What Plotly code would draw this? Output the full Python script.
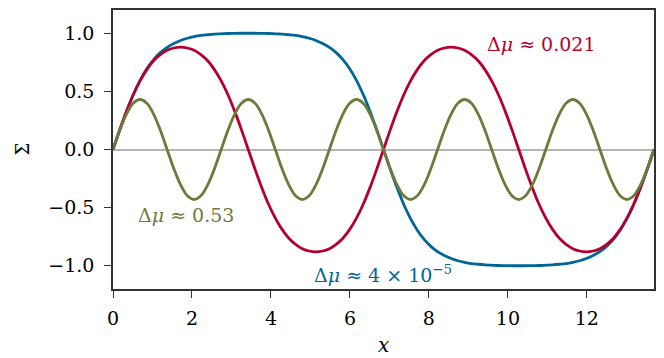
import plotly.graph_objects as go

# sample positions along x
x = [0.000, 0.171, 0.343, 0.514, 0.685, 0.856, 1.028, 1.199, 1.370, 1.541,
     1.713, 1.884, 2.055, 2.226, 2.398, 2.569, 2.740, 2.911, 3.083, 3.254,
     3.425, 3.596, 3.768, 3.939, 4.110, 4.281, 4.453, 4.624, 4.795, 4.966,
     5.138, 5.309, 5.480, 5.651, 5.823, 5.994, 6.165, 6.336, 6.508, 6.679,
     6.850, 7.021, 7.193, 7.364, 7.535, 7.706, 7.878, 8.049, 8.220, 8.391,
     8.563, 8.734, 8.905, 9.076, 9.248, 9.419, 9.590, 9.761, 9.933, 10.104,
     10.275, 10.446, 10.618, 10.789, 10.960, 11.131, 11.303, 11.474, 11.645, 11.816,
     11.988, 12.159, 12.330, 12.501, 12.673, 12.844, 13.015, 13.186, 13.358, 13.529,
     13.700]

# Delta mu ~ 4e-5 (blue)
sigma_blue = [0.000, 0.170, 0.330, 0.473, 0.595, 0.694, 0.773, 0.833, 0.879, 0.912,
              0.938, 0.957, 0.971, 0.981, 0.987, 0.992, 0.995, 0.998, 0.999, 1.000,
              1.000, 1.000, 0.999, 0.998, 0.995, 0.992, 0.987, 0.981, 0.971, 0.957,
              0.938, 0.912, 0.879, 0.833, 0.773, 0.694, 0.595, 0.473, 0.330, 0.170,
              0.000, -0.170, -0.330, -0.473, -0.595, -0.694, -0.773, -0.833, -0.879, -0.912,
              -0.938, -0.957, -0.971, -0.981, -0.987, -0.992, -0.995, -0.998, -0.999, -1.000,
              -1.000, -1.000, -0.999, -0.998, -0.995, -0.992, -0.987, -0.981, -0.971, -0.957,
              -0.938, -0.912, -0.879, -0.833, -0.773, -0.694, -0.595, -0.473, -0.330, -0.170,
              0.000]

# Delta mu ~ 0.021 (red)
sigma_red = [0.000, 0.169, 0.328, 0.471, 0.590, 0.687, 0.763, 0.816, 0.853, 0.873,
             0.880, 0.873, 0.853, 0.816, 0.763, 0.687, 0.590, 0.471, 0.328, 0.169,
             0.000, -0.169, -0.328, -0.471, -0.590, -0.687, -0.763, -0.816, -0.853, -0.873,
             -0.880, -0.873, -0.853, -0.816, -0.763, -0.687, -0.590, -0.471, -0.328, -0.169,
             0.000, 0.169, 0.328, 0.471, 0.590, 0.687, 0.763, 0.816, 0.853, 0.873,
             0.880, 0.873, 0.853, 0.816, 0.763, 0.687, 0.590, 0.471, 0.328, 0.169,
             0.000, -0.169, -0.328, -0.471, -0.590, -0.687, -0.763, -0.816, -0.853, -0.873,
             -0.880, -0.873, -0.853, -0.816, -0.763, -0.687, -0.590, -0.471, -0.328, -0.169,
             0.000]

# Delta mu ~ 0.53 (green)
sigma_green = [0.000, 0.166, 0.305, 0.398, 0.430, 0.398, 0.305, 0.166, 0.000, -0.166,
               -0.305, -0.398, -0.430, -0.398, -0.305, -0.166, 0.000, 0.166, 0.305, 0.398,
               0.430, 0.398, 0.305, 0.166, 0.000, -0.166, -0.305, -0.398, -0.430, -0.398,
               -0.305, -0.166, 0.000, 0.166, 0.305, 0.398, 0.430, 0.398, 0.305, 0.166,
               0.000, -0.166, -0.305, -0.398, -0.430, -0.398, -0.305, -0.166, 0.000, 0.166,
               0.305, 0.398, 0.430, 0.398, 0.305, 0.166, 0.000, -0.166, -0.305, -0.398,
               -0.430, -0.398, -0.305, -0.166, 0.000, 0.166, 0.305, 0.398, 0.430, 0.398,
               0.305, 0.166, 0.000, -0.166, -0.305, -0.398, -0.430, -0.398, -0.305, -0.166,
               0.000]

x_ticks = [0, 2, 4, 6, 8, 10, 12]
y_ticks = [-1.0, -0.5, 0.0, 0.5, 1.0]
y_tick_text = ["\u22121.0", "\u22120.5", "0.0", "0.5", "1.0"]

BLUE = "#006696"
RED = "#b5002f"
GREEN = "#6d7a3c"
FONT = "DejaVu Serif"

fig = go.Figure()
for ys, col in [(sigma_blue, BLUE), (sigma_red, RED), (sigma_green, GREEN)]:
    fig.add_trace(
        go.Scatter(
            x=x, y=ys, mode="lines",
            line=dict(color=col, width=2.8, shape="spline", smoothing=1.0),
            showlegend=False, hoverinfo="skip",
        )
    )

# curve labels
labels = [
    ("\u0394<i>\u03bc</i> \u2248 0.021", 10.85, 0.905, RED),
    ("\u0394<i>\u03bc</i> \u2248 0.53", 1.85, -0.56, GREEN),
    ("\u0394<i>\u03bc</i> \u2248 4 \u00d7 10<sup>\u22125</sup>", 6.83, -1.07, BLUE),
]
for txt, ax_, ay_, col in labels:
    fig.add_annotation(x=ax_, y=ay_, text=txt, showarrow=False,
                       font=dict(color=col, size=19, family=FONT),
                       xanchor="center", yanchor="middle")

# axis titles
fig.add_annotation(x=0.5, y=-0.252, xref="paper", yref="paper", text="<i>x</i>",
                   showarrow=False, font=dict(size=20, family=FONT),
                   xanchor="center", yanchor="bottom")
fig.add_annotation(x=-0.168, y=0.5, xref="paper", yref="paper", text="\u03a3",
                   showarrow=False, textangle=-90, font=dict(size=18, family=FONT),
                   xanchor="center", yanchor="middle")

axis_common = dict(
    showline=True, linecolor="#333333", linewidth=1.5, mirror=True,
    ticks="outside", ticklen=7, tickwidth=1.3, tickcolor="#333333",
    showgrid=False, automargin=False,
    tickfont=dict(size=19, color="black", family=FONT),
)

fig.update_xaxes(range=[0, 13.7], tickvals=x_ticks, zeroline=False,
                 ticklabelstandoff=4, **axis_common)
fig.update_yaxes(
    range=[-1.2, 1.2], tickvals=y_ticks, ticktext=y_tick_text,
    zeroline=True, zerolinecolor="#b4b4b4", zerolinewidth=2,
    ticklabelstandoff=6, **axis_common,
)

fig.update_layout(
    width=664, height=358,
    margin=dict(l=113, r=10, t=10, b=69),
    plot_bgcolor="white", paper_bgcolor="white",
    font=dict(family=FONT, color="black"),
)

fig.write_html("out.html", config={"displayModeBar": False},
               post_script="document.body.style.margin='0';")
